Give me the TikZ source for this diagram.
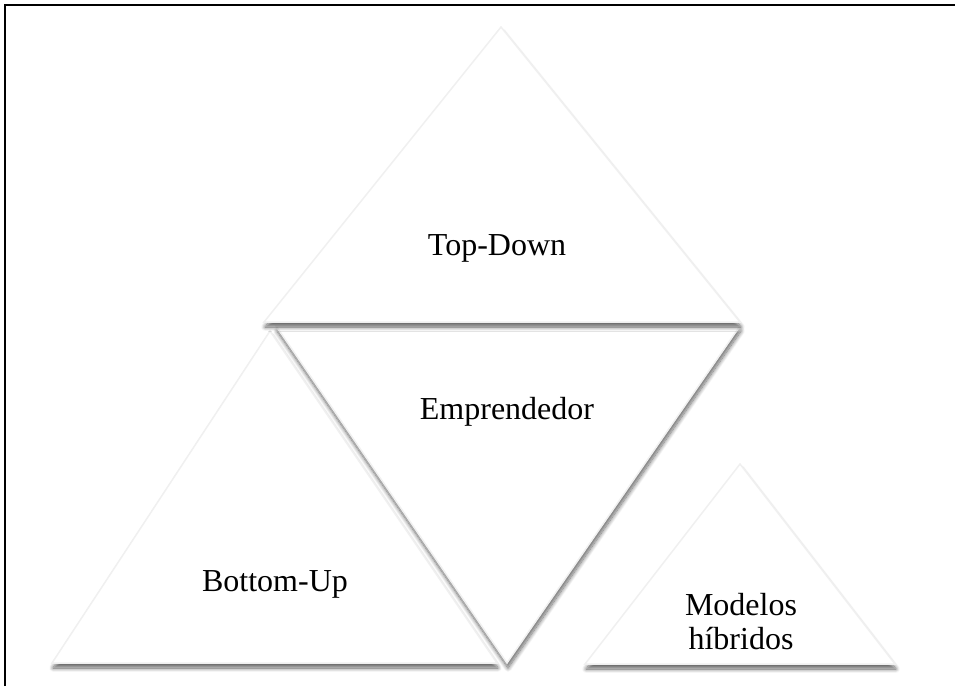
\documentclass[tikz,border=0pt]{standalone}
\usepackage{fontspec}
\setmainfont{Liberation Serif}
\usetikzlibrary{shadows.blur}
\begin{document}
\begin{tikzpicture}[x=1pt,y=-1pt,
  tri/.style={fill=white,draw=black!6,line width=1.5pt,line join=miter,
    blur shadow={shadow xshift=1pt,shadow yshift=-5pt,shadow opacity=60,
      shadow blur steps=12,shadow blur radius=4pt,shadow blur extra rounding=0pt}},
  lbl/.style={font=\fontsize{32}{34}\selectfont,text=black,align=center,inner sep=0pt},
  frame/.style={line width=2pt,black}]
\useasboundingbox (0,0) rectangle (955,686);
% frame
\coordinate (fb) at (5,686);
\coordinate (ftl) at (5,5);
\coordinate (fr) at (955,5);
\draw[frame] (fb) -- (ftl) -- (fr);
% triangle corners
\coordinate (bl) at (52,663);
\coordinate (br) at (497,663);
\coordinate (bt) at (270,331);
\coordinate (el) at (276,326);
\coordinate (er) at (740,326);
\coordinate (eb) at (507,663);
\coordinate (tl) at (264,322);
\coordinate (tr) at (740,322);
\coordinate (tt) at (501,27);
\coordinate (ml) at (585,664);
\coordinate (mr) at (895,664);
\coordinate (mt) at (740,464);
% triangles
\path[tri] (bl) -- (br) -- (bt) -- cycle;
\path[tri] (el) -- (er) -- (eb) -- cycle;
\path[tri] (tl) -- (tr) -- (tt) -- cycle;
\path[tri] (ml) -- (mr) -- (mt) -- cycle;
% labels
\node[lbl] (td) at (497,248) {Top-Down};
\node[lbl] (em) at (507,412) {Emprendedor};
\node[lbl] (bu) at (275,584) {Bottom-Up};
\node[lbl] (mh) at (741,622) {Modelos\\híbridos};
\end{tikzpicture}
\end{document}
